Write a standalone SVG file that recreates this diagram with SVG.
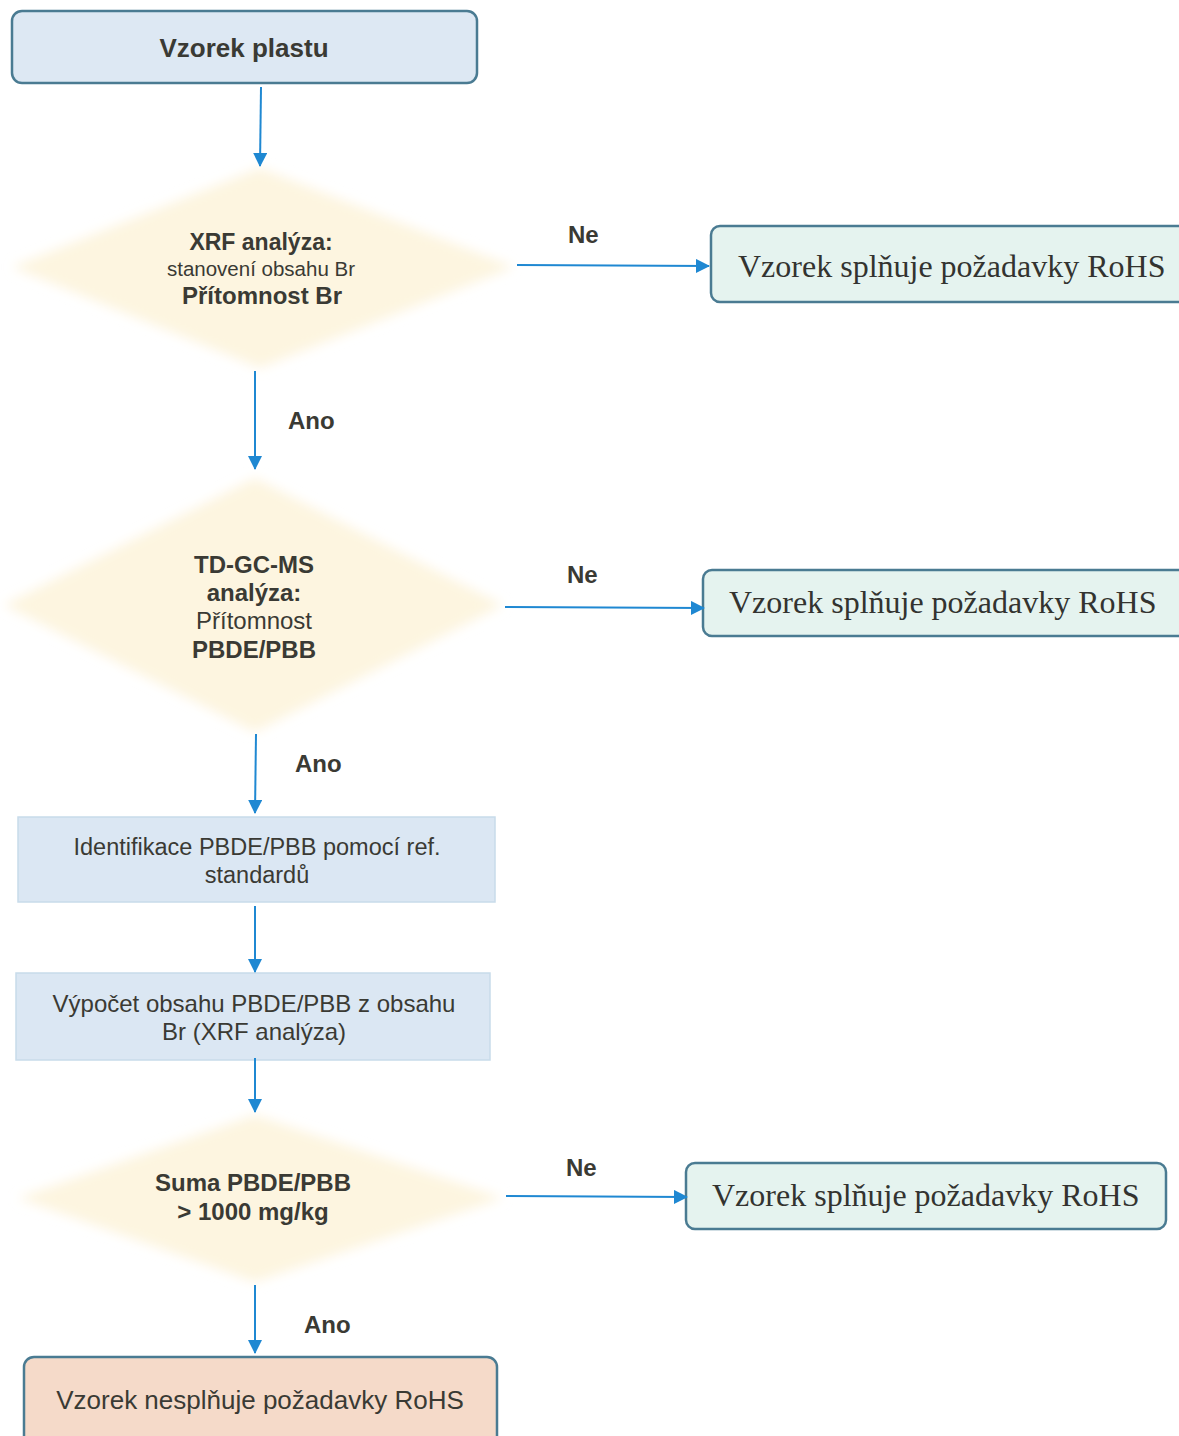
<svg xmlns="http://www.w3.org/2000/svg" width="1179" height="1436" viewBox="0 0 1179 1436">
<defs>
  <filter id="soft" x="-10%" y="-10%" width="120%" height="120%">
    <feGaussianBlur stdDeviation="6"/>
  </filter>
  <marker id="arr" viewBox="0 0 14 14" refX="13" refY="7" markerWidth="14" markerHeight="14" markerUnits="userSpaceOnUse" orient="auto">
    <path d="M0,0 L14,7 L0,14 Z" fill="#1f88d2"/>
  </marker>
</defs>
<style>
  .t { font-family: "Liberation Sans", Arial, sans-serif; fill: #3a3a34; text-anchor: middle; }
  .b { font-weight: bold; }
  .serif { font-family: "Liberation Serif", "Times New Roman", serif; fill: #333330; font-size: 32px; }
  .round { stroke: #4a7b92; stroke-width: 2.5; }
  .ok { fill: #e5f3ef; }
  .dia { fill: #fdf5e0; filter: url(#soft); }
  .proc { fill: #dbe7f3; stroke: #c8dbea; stroke-width: 1.5; }
  .c { stroke: #1f88d2; stroke-width: 2; fill: none; marker-end: url(#arr); }
  .lab { font-family: "Liberation Sans", Arial, sans-serif; font-weight: bold; font-size: 24px; fill: #3a3a34; }
</style>

<g id="n-start">
  <rect x="12" y="11" width="465" height="72" rx="10" fill="#dde8f3" class="round"/>
  <text class="t b" x="244" y="57" font-size="26">Vzorek plastu</text>
</g>

<g id="n-xrf">
  <polygon class="dia" points="260,168 514,267 260,368 12,267"/>
  <text class="t b" x="261" y="250" font-size="23">XRF analýza:</text>
  <text class="t" x="261" y="276" font-size="20.5">stanovení obsahu Br</text>
  <text class="t b" x="262" y="304" font-size="24">Přítomnost Br</text>
</g>

<g id="n-ok1">
  <rect x="711" y="226" width="490" height="76" rx="9" class="ok round"/>
  <text class="serif" x="738" y="277">Vzorek splňuje požadavky RoHS</text>
</g>

<g id="n-tdgc">
  <polygon class="dia" points="255,478 503,605 255,732 4,605"/>
  <text class="t b" x="254" y="573" font-size="24">TD-GC-MS</text>
  <text class="t b" x="254" y="601" font-size="24">analýza:</text>
  <text class="t" x="254" y="629" font-size="24">Přítomnost</text>
  <text class="t b" x="254" y="658" font-size="24">PBDE/PBB</text>
</g>

<g id="n-ok2">
  <rect x="703" y="570" width="500" height="66" rx="9" class="ok round"/>
  <text class="serif" x="729" y="613">Vzorek splňuje požadavky RoHS</text>
</g>

<g id="n-ident">
  <rect x="18" y="817" width="477" height="85" class="proc"/>
  <text class="t" x="257" y="855" font-size="23.5">Identifikace PBDE/PBB pomocí ref.</text>
  <text class="t" x="257" y="883" font-size="23.5">standardů</text>
</g>

<g id="n-vypocet">
  <rect x="16" y="973" width="474" height="87" class="proc"/>
  <text class="t" x="254" y="1012" font-size="24">Výpočet obsahu PBDE/PBB z obsahu</text>
  <text class="t" x="254" y="1040" font-size="24">Br (XRF analýza)</text>
</g>

<g id="n-suma">
  <polygon class="dia" points="255,1115 503,1198 255,1282 18,1198"/>
  <text class="t b" x="253" y="1191" font-size="24">Suma PBDE/PBB</text>
  <text class="t b" x="253" y="1220" font-size="24">&gt; 1000 mg/kg</text>
</g>

<g id="n-ok3">
  <rect x="686" y="1163" width="480" height="66" rx="9" class="ok round"/>
  <text class="serif" x="712" y="1206">Vzorek splňuje požadavky RoHS</text>
</g>

<g id="n-fail">
  <rect x="24" y="1357" width="473" height="95" rx="10" fill="#f5dac9" class="round"/>
  <text class="t" x="260" y="1409" font-size="26">Vzorek nesplňuje požadavky RoHS</text>
</g>

<g id="connectors">
  <path class="c" d="M261,87 L260,166"/>
  <path class="c" d="M517,265 L709,266"/>
  <path class="c" d="M255,371 L255,469"/>
  <path class="c" d="M505,607 L704,608"/>
  <path class="c" d="M256,734 L255,813"/>
  <path class="c" d="M255,906 L255,972"/>
  <path class="c" d="M255,1058 L255,1112"/>
  <path class="c" d="M506,1196 L687,1197"/>
  <path class="c" d="M255,1285 L255,1353"/>
  <text class="lab" x="568" y="243">Ne</text>
  <text class="lab" x="288" y="429">Ano</text>
  <text class="lab" x="567" y="583">Ne</text>
  <text class="lab" x="295" y="772">Ano</text>
  <text class="lab" x="566" y="1176">Ne</text>
  <text class="lab" x="304" y="1333">Ano</text>
</g>
</svg>
